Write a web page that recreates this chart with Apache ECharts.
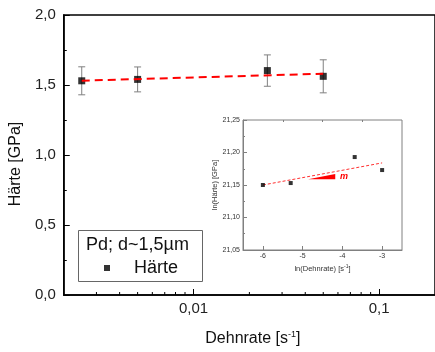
<!DOCTYPE html>
<html>
<head>
<meta charset="utf-8">
<script src="https://cdn.jsdelivr.net/npm/echarts@6/dist/echarts.min.js"></script>
<style>html,body{margin:0;padding:0;background:#fff}#c{width:435px;height:352px}</style>
</head>
<body>
<div id="c"></div>
<script>
// ---- main chart data ----
const rates = [0.0025, 0.005, 0.025, 0.05];
const hardness = [1.530, 1.540, 1.603, 1.562];
const hardnessErr = [0.100, 0.089, 0.112, 0.118];
const fitX = [0.0025, 0.05];
const fitY = [1.531, 1.581];
const xTickValues = [0.01, 0.1];
const xTickLabels = ['0,01', '0,1'];
const xMinorTicks = [0.003, 0.004, 0.005, 0.006, 0.007, 0.008, 0.009, 0.02, 0.03, 0.04, 0.05, 0.06, 0.07, 0.08, 0.09];
const yTickLabels = ['0,0', '0,5', '1,0', '1,5', '2,0'];
// ---- inset data ----
const lnRate = [-6.0, -5.3, -3.69, -3.0];
const lnHard = [21.150, 21.153, 21.193, 21.173];
const insetFitX = [-6.0, -3.0];
const insetFitY = [21.150, 21.184];
const slopeTriangle = [[-4.86, 21.159], [-4.18, 21.159], [-4.18, 21.167]];
const slopeLabelPos = [-4.06, 21.1625];
const insetXMajor = [-6, -5, -4, -3];
const insetXMinor = [-5.5, -4.5, -3.5];
const insetXLabels = ['-6', '-5', '-4', '-3'];
const insetYLabels = ['21,05', '21,10', '21,15', '21,20', '21,25'];

const FONT = 'Liberation Sans, Arial, sans-serif';
const chart = echarts.init(document.getElementById('c'), null, {renderer: 'canvas'});

const option = {
  animation: false,
  textStyle: {fontFamily: FONT},
  title: {
    text: 'Pd; d~1,5µm', left: 86, top: 236, padding: 0,
    textStyle: {fontSize: 18, fontWeight: 'normal', color: '#111', fontFamily: FONT}
  },
  legend: {
    data: ['Härte'], left: 104, top: 259, padding: 0,
    icon: 'rect', itemWidth: 6, itemHeight: 6,
    textStyle: {fontSize: 18, color: '#111', padding: [0, 0, 0, 19], fontFamily: FONT}
  },
  graphic: [{
    type: 'rect', left: 78, top: 230, z: 0,
    shape: {width: 124, height: 51},
    style: {fill: '#fff', stroke: '#666', lineWidth: 1}
  }],
  grid: [
    {left: 63, top: 15, width: 379, height: 280, show: true, borderColor: '#000', borderWidth: 1.5, backgroundColor: 'transparent'},
    {left: 243, top: 120, width: 159, height: 130, show: true, borderColor: '#808080', borderWidth: 1, backgroundColor: '#fff', z: 5}
  ],
  xAxis: [
    {
      type: 'log', logBase: 10, gridIndex: 0, min: 0.002, max: 0.2,
      axisLine: {lineStyle: {color: '#000', width: 1.5}},
      axisTick: {inside: true, length: 6, lineStyle: {color: '#000', width: 1}},
      splitLine: {show: false},
      axisLabel: {
        fontSize: 15, color: '#222', margin: 6, showMinLabel: false, showMaxLabel: false,
        formatter: function (v) {
          const i = xTickValues.findIndex(t => Math.abs(Math.log10(v) - Math.log10(t)) < 1e-6);
          return i >= 0 ? xTickLabels[i] : '';
        }
      },
      name: '{a|Dehnrate [s}{s|-1}{a|]}', nameLocation: 'middle', nameGap: 35,
      nameTextStyle: {
        padding: [0, 0, 0, 7],
        rich: {
          a: {fontSize: 16, color: '#111', fontFamily: FONT},
          s: {fontSize: 9, color: '#111', fontFamily: FONT, verticalAlign: 'top', padding: [0, 0, 8, 0]}
        }
      }
    },
    {
      type: 'value', gridIndex: 1, min: -6.5, max: -2.5,
      axisLine: {lineStyle: {color: '#808080', width: 1}},
      axisTick: {inside: true, length: 4, customValues: insetXMajor, lineStyle: {color: '#808080'}},
      splitLine: {show: false},
      axisLabel: {
        fontSize: 7, color: '#333', margin: 3, customValues: insetXMajor,
        formatter: function (v) {
          const i = insetXMajor.findIndex(t => Math.abs(t - v) < 1e-6);
          return i >= 0 ? insetXLabels[i] : '';
        }
      },
      name: '{a|ln(Dehnrate) [s}{s|-1}{a|]}', nameLocation: 'middle', nameGap: 14,
      nameTextStyle: {
        rich: {
          a: {fontSize: 7.5, color: '#333', fontFamily: FONT},
          s: {fontSize: 5, color: '#333', fontFamily: FONT, verticalAlign: 'top', padding: [0, 0, 4, 0]}
        }
      },
      z: 6
    },
    {
      type: 'value', gridIndex: 1, min: -6.5, max: -2.5,
      axisLine: {show: false},
      axisTick: {inside: true, length: 2, customValues: insetXMinor, lineStyle: {color: '#808080'}},
      axisLabel: {show: false},
      splitLine: {show: false},
      z: 6
    }
  ],
  yAxis: [
    {
      type: 'value', gridIndex: 0, min: 0, max: 2, interval: 0.5,
      axisLine: {show: true, lineStyle: {color: '#000', width: 1.5}},
      axisTick: {show: true, inside: true, length: 6, lineStyle: {color: '#000'}},
      minorTick: {show: true, splitNumber: 2, length: 3, lineStyle: {color: '#000'}},
      splitLine: {show: false},
      axisLabel: {
        fontSize: 15, color: '#222', margin: 8,
        formatter: function (v, i) { return yTickLabels[i]; }
      },
      name: 'Härte [GPa]', nameLocation: 'middle', nameGap: 35,
      nameTextStyle: {fontSize: 16, color: '#111', padding: [0, 18, 0, 0], fontFamily: FONT}
    },
    {
      type: 'value', gridIndex: 1, min: 21.05, max: 21.25, interval: 0.05,
      axisLine: {show: true, lineStyle: {color: '#808080', width: 1}},
      axisTick: {show: true, inside: true, length: 4, lineStyle: {color: '#808080'}},
      minorTick: {show: true, splitNumber: 2, length: 2, lineStyle: {color: '#808080'}},
      splitLine: {show: false},
      axisLabel: {
        fontSize: 7, color: '#333', margin: 3,
        formatter: function (v, i) { return insetYLabels[i]; }
      },
      name: 'ln(Härte) [GPa]', nameLocation: 'middle', nameGap: 24,
      nameTextStyle: {fontSize: 7.5, color: '#333', fontFamily: FONT},
      z: 6
    }
  ],
  series: [
    {
      type: 'custom', name: 'errors', xAxisIndex: 0, yAxisIndex: 0, z: 1, silent: true,
      data: rates.map((r, i) => [r, hardness[i] - hardnessErr[i], hardness[i] + hardnessErr[i]]),
      encode: {x: 0, y: [1, 2]},
      renderItem: function (params, api) {
        const lo = api.coord([api.value(0), api.value(1)]);
        const hi = api.coord([api.value(0), api.value(2)]);
        const w = 3.5, st = {stroke: '#808080', lineWidth: 1};
        return {type: 'group', children: [
          {type: 'line', shape: {x1: lo[0], y1: lo[1], x2: hi[0], y2: hi[1]}, style: st},
          {type: 'line', shape: {x1: lo[0] - w, y1: lo[1], x2: lo[0] + w, y2: lo[1]}, style: st},
          {type: 'line', shape: {x1: hi[0] - w, y1: hi[1], x2: hi[0] + w, y2: hi[1]}, style: st}
        ]};
      }
    },
    {
      type: 'scatter', name: 'Härte', xAxisIndex: 0, yAxisIndex: 0, z: 2,
      symbol: 'rect', symbolSize: 7, itemStyle: {color: '#000'},
      data: rates.map((r, i) => [r, hardness[i]])
    },
    {
      type: 'line', name: 'fit', xAxisIndex: 0, yAxisIndex: 0, z: 3,
      showSymbol: false, symbol: 'none',
      lineStyle: {color: '#ff0000', width: 2, type: [8, 5]},
      data: fitX.map((x, i) => [x, fitY[i]])
    },
    {
      type: 'custom', name: 'xminor', xAxisIndex: 0, yAxisIndex: 0, z: 4, silent: true, clip: false,
      data: xMinorTicks.map(v => [v, 0]),
      renderItem: function (params, api) {
        const p = api.coord([api.value(0), 0]);
        return {type: 'line', shape: {x1: p[0], y1: p[1], x2: p[0], y2: p[1] - 3}, style: {stroke: '#000', lineWidth: 1}};
      }
    },
    {
      type: 'scatter', name: 'insetPts', xAxisIndex: 1, yAxisIndex: 1, z: 8,
      symbol: 'rect', symbolSize: 4, itemStyle: {color: '#000'},
      data: lnRate.map((x, i) => [x, lnHard[i]])
    },
    {
      type: 'line', name: 'insetFit', xAxisIndex: 1, yAxisIndex: 1, z: 7,
      showSymbol: false, symbol: 'none',
      lineStyle: {color: '#ff3030', width: 1, type: [3, 2]},
      data: insetFitX.map((x, i) => [x, insetFitY[i]])
    },
    {
      type: 'custom', name: 'slope', xAxisIndex: 1, yAxisIndex: 1, z: 8, silent: true,
      data: [slopeTriangle[0]],
      renderItem: function (params, api) {
        const pts = slopeTriangle.map(p => api.coord(p));
        const lp = api.coord(slopeLabelPos);
        return {type: 'group', children: [
          {type: 'polygon', shape: {points: pts}, style: {fill: '#ff0000'}},
          {type: 'text', style: {text: 'm', x: lp[0], y: lp[1], fill: '#ff0000',
            font: 'italic bold 9px Liberation Sans', verticalAlign: 'middle', align: 'left'}}
        ]};
      }
    }
  ]
};
chart.setOption(option);
</script>
</body>
</html>
